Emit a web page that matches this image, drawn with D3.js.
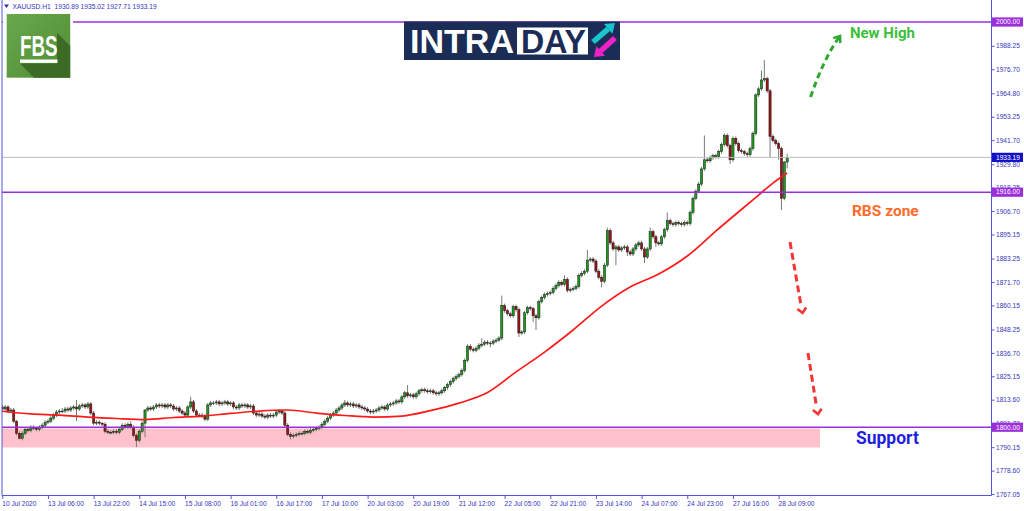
<!DOCTYPE html>
<html><head><meta charset="utf-8">
<script src="https://cdn.jsdelivr.net/npm/d3@7"></script>
<style>html,body{margin:0;padding:0;background:#fff}svg{display:block}</style>
</head><body>
<svg id="c" width="1024" height="511"></svg>
<script>
// ---------------- DATA ----------------
const symbolTitle = "XAUUSD.H1  1930.89 1935.02 1927.71 1933.19";
const firstOpen = 1810;
const closes = [
1809,1810,1808,1808.5,1803,1797,1794.5,1797,1799,1798.5,
1800,1799.5,1799,1800,1801,1802.5,1803,1804.5,1806,1807.5,
1808,1808,1809,1808.5,1809.5,1810,1809,1810.5,1811,1810,
1811.5,1807,1802,1802.5,1802,1801.5,1798,1797.5,1797.5,1798,
1797.5,1799,1801,1800,1801.5,1800,1796,1793.5,1798,1802,
1808.5,1809.5,1809,1810,1811,1810.5,1811,1810,1811,1810.5,
1809,1809.5,1808,1807,1806,1810,1812.5,1808,1806,1806,
1805.5,1804,1811,1812,1812,1812.5,1811.5,1812,1812.5,1811.5,
1812,1810,1809.5,1811,1810.5,1811,1810,1810.5,1807,1806,
1806.5,1805.5,1805,1806,1805.5,1806,1807.5,1808,1807,1801,
1796.5,1795.5,1796,1796.5,1797,1797,1798,1797.5,1798.5,1799,
1799.5,1800,1801.5,1803,1804.5,1806,1807,1808.5,1809.5,1811,
1812,1811,1811.5,1810.5,1811,1810,1809.5,1809,1808,1807.5,
1808,1808.5,1809.5,1810,1809,1811,1811.5,1812,1813,1812.5,
1815,1817,1815.5,1816,1815,1816.5,1818,1818.5,1818,1817.5,
1818,1817,1816.5,1817,1818,1819.5,1821,1822.5,1824,1825,
1826,1828,1833,1840,1838.5,1838,1839,1840.5,1841,1842,
1841.5,1841.5,1842.5,1843,1844,1860,1857.5,1856,1855,1859.5,
1858,1846.5,1847,1856.5,1859,1858.5,1855,1854,1862,1864,
1865.5,1866,1866.5,1868.5,1870,1871.5,1870.5,1873,1867.5,1868,
1868.5,1869.5,1875,1876,1877,1882.5,1883,1882,1877,1874,
1872,1880,1897,1891,1888,1889,1887.5,1888.5,1889,1886.5,
1885.5,1888,1890,1891,1888,1884,1888,1896.5,1894,1891,
1890.5,1894,1897.5,1902,1900.5,1900,1901,1900.5,1900,1901,
1900.5,1906,1913,1916.5,1920,1927.5,1932,1931.5,1933,1934,
1933.5,1936,1939.5,1944,1939,1932,1942.5,1940,1936.5,1936,
1935,1934.5,1937.5,1945,1964,1967,1971.4,1972,1966,1943.5,
1941.5,1940,1937.5,1913,1930.89,1933.19
];
const wickUp = [
1,1,1,1,1,0.5,1,1,1,1,
1,1,0.5,1,1,1,1,1,1,1,
1,1.5,1,1,1,1,3.5,1,1,1,
1,1,1,1,1,0.5,1,1,1,1,
1,1,1,1,1,1.5,1,1,1,1,
0.5,1,1,1,1,1,1,1,1,1,
1,1,1,1,1,1,2.5,1,1,1,
1,1,1,1,1,1,1,1,1,1,
1,1,1,1,1,1,1,1,1,1,
1,1,1,1,1,1,1,1,1,1,
1,1,1,1,1,1,1,1,1,1,
1,1,1,1,1,1,1,1,1,1,
1.5,1,1,1,1,1,1,1,1,1,
1,1,1,1,1,1,1,1,1,1,
1,1,3.8,1,1,1,1,1,1,1,
1,1,1,1,1,1,1,1,1,1,
1,1,1,1,1,1,1,1,3,1,
1,1,1,1,1,5,1,1,1,1,
1,1,1,1,1,1,1,1,1,1,
1,1,1,1,1,1,1,2,1,1,
1,1,1,1,1,5,1,1,1,1,
1,1,1.5,1,1,1,1,1,1,1,
1,1,1,1,1,1,1,2,1,1,
1,1,1,4,1,1,1,1,1,1,
1,1,1,1,1,1,12,1,1,1,
1,1,1,1,1,1,1,1,1,1,
1,1,1,1,1,1,4.6,9.2,1,1,
1,1,1,1,0.5,1.83
];
const wickDn = [
1,1,1,1,1,1,0.5,1,1,1,
1,1,1,1,1,1,1,1,1,1,
1,1,1,1,1,1,6,1,1,1,
1,1,1,1,1,1,1,1,1,1,
1,1,1,1,1,1,1,3.3,1,1,
7,1,1,1,1,1,1,1,1,1,
1,1,1,1,1,1,1,1,1,1,
1,1,1,1,1,1,1,1,1,1,
1,1,1,1,1,1,1,1,1,1,
1,1,1,1,1,1,1,1,1,1,
1,1.5,1,1,1,1,1,1,1,1,
1,1,1,1,1,1,1,1,1,1,
1,1,1,1,1,1,1,1,1,1,
1,1,1,1,1,1,1,1,1,1,
1,1,1,1,1,1,1,1,1,1,
1,1,1,1,1,1,1,1,1,1,
1,1,1,1,1,1,1,1,1,1,
1,2,1,1,1,1,1,1,1,1,
1,2,1,1,1,1,3,6,1,1,
1,1,1,1,1,1,1,1,1,1,
1,1,1,1,1,1,1,1,1,1,
3,1,1,1,1,8,1,1,1,2,
1,1,1,1,1,3,1,1,1,2,
1,1,1,1,1,1,1,1,1,1,
1,1,1,1,1,1,1,1,1,1,
1,1,1,1,1,2,1,1,1,1,
1,1,1,1,1,1,1,1,1,10.6,
1,1,5.5,5.8,1,3.18
];
// moving average at bar indices
const maIdx = [0,10,20,30,40,50,60,70,80,90,100,110,120,130,140,150,160,170,180,190,200,210,220,230,240,250,260,265,270,275];
const maVal = [1807.9,1806.6,1806.0,1805.0,1804.3,1803.8,1804.8,1805.5,1806.8,1808.0,1808.5,1807.0,1805.8,1805.0,1805.5,1808.2,1811.9,1817.1,1827.3,1837.1,1848.0,1859.8,1869.2,1875.6,1884.5,1896.8,1908.7,1914.6,1920.5,1925.5];
// time axis labels (every 16 bars)
const timeLabels = ["10 Jul 2020","13 Jul 06:00","13 Jul 22:00","14 Jul 15:00","15 Jul 08:00","16 Jul 01:00","16 Jul 17:00","17 Jul 10:00","20 Jul 03:00","20 Jul 19:00","21 Jul 12:00","22 Jul 05:00","22 Jul 21:00","23 Jul 14:00","24 Jul 07:00","24 Jul 23:00","27 Jul 16:00","28 Jul 09:00"];
const timeLabelBars = [0,16,32,48,64,80,96,112,128,144,160,176,192,208,224,240,256,272];
// price axis
const priceTicks = [1988.25,1976.70,1964.80,1953.25,1941.70,1929.80,1918.25,1906.70,1895.15,1883.25,1871.70,1860.15,1848.25,1836.70,1825.15,1813.60,1801.70,1790.15,1778.60,1767.05];
const levelLines = [2000.00, 1916.00, 1800.00];
const currentPrice = 1933.19;
const supportZone = {fromBar:-1, toBar:286.5, top:1799.4, bottom:1790.0};
// annotations in (bar, price)
const greenArrow = {from:[283.2,1963.0], ctrl:[287.6,1981.2], to:[293.0,1992.1], tip:[293.5,1993.1]};
const redArrows = [
  {from:[276.0,1891.4], to:[279.9,1859.8], tip:[280.4,1856.4]},
  {from:[282.3,1836.6], to:[285.3,1810.0], tip:[285.8,1806.5]}
];
const notes = [
  {text:"New High", bar:297.0, price:1992.3, color:"#3cbf3c", size:15},
  {text:"RBS zone", bar:297.7, price:1904.5, color:"#ff6b2b", size:15.5},
  {text:"Support", bar:299.1, price:1791.5, color:"#1f1fe0", size:17.5}
];

// ---------------- DRAW ----------------
const svg = d3.select("#c");
const axisColor = "#5454dc", textColor = "#3535c0";
const purple = "#9c2fdc";
const plotL = 2, plotR = 991.5, plotB = 495.5;
const x = d3.scaleLinear().domain([0, 272]).range([2.3, 778.6]);
const y = d3.scaleLinear().domain([1767.05, 2000]).range([494, 22]);
const F = "'Liberation Sans', Arial, sans-serif";

svg.append("rect").attr("width",1024).attr("height",511).attr("fill","#fff");

const bars = closes.map((c,i)=>{
  const o = i ? closes[i-1] : firstOpen;
  return {i, o, c, h: Math.max(o,c)+wickUp[i], l: Math.min(o,c)-wickDn[i]};
});

const plot = svg.append("g");
plot.append("defs").append("clipPath").attr("id","clip")
  .append("rect").attr("x",plotL).attr("y",0).attr("width",plotR-plotL).attr("height",plotB);
const pg = plot.append("g").attr("clip-path","url(#clip)");

// support zone
pg.append("rect")
  .attr("x", x(supportZone.fromBar)).attr("width", x(supportZone.toBar)-x(supportZone.fromBar))
  .attr("y", y(supportZone.top)).attr("height", y(supportZone.bottom)-y(supportZone.top))
  .attr("fill","#ffc2cc");

// candles
const cg = pg.append("g");
cg.selectAll("line.w").data(bars).join("line").attr("class","w")
  .attr("x1",d=>x(d.i)).attr("x2",d=>x(d.i))
  .attr("y1",d=>y(d.h)).attr("y2",d=>y(d.l))
  .attr("stroke","#7a7a7a").attr("stroke-width",1);
cg.selectAll("rect.b").data(bars).join("rect").attr("class","b")
  .attr("x",d=>x(d.i)-1.1).attr("width",2.2)
  .attr("y",d=>y(Math.max(d.o,d.c)))
  .attr("height",d=>Math.max(0.8, Math.abs(y(d.o)-y(d.c))))
  .attr("fill",d=>d.c>=d.o ? "#1c9a1c" : "#9a1212")
  .attr("stroke","#1a1a1a").attr("stroke-width",0.5);

// moving average
const ma = maIdx.map((b,k)=>({b, v:maVal[k]}));
pg.append("path").datum(ma)
  .attr("d", d3.line().x(d=>x(d.b)).y(d=>y(d.v)).curve(d3.curveMonotoneX))
  .attr("fill","none").attr("stroke","#ff1a1a").attr("stroke-width",1.7);

// current price line and level lines
pg.append("line").attr("x1",plotL).attr("x2",plotR)
  .attr("y1",y(currentPrice)).attr("y2",y(currentPrice))
  .attr("stroke","#bdbdbd").attr("stroke-width",1);
pg.selectAll("line.lvl").data(levelLines).join("line").attr("class","lvl")
  .attr("x1",plotL).attr("x2",plotR).attr("y1",d=>y(d)).attr("y2",d=>y(d))
  .attr("stroke",purple).attr("stroke-width",1.4);

// frame
svg.append("path").attr("d",`M${plotL},0V${plotB}H${plotR}V0`)
  .attr("fill","none").attr("stroke",axisColor).attr("stroke-width",1);

// right axis
const yAxis = d3.axisRight(y).tickValues(priceTicks).tickSize(3).tickPadding(1.5)
  .tickFormat(d3.format(".2f"));
const yg = svg.append("g").attr("transform",`translate(${plotR},0)`).call(yAxis);
yg.select(".domain").remove();
yg.attr("font-family",F).attr("font-size",6.6);
yg.selectAll("line").attr("stroke",axisColor);
yg.selectAll("text").attr("fill",textColor);

// bottom axis
const xAxis = d3.axisBottom(x).tickValues(timeLabelBars).tickSize(3.5).tickPadding(2)
  .tickFormat((d,i)=>timeLabels[i]);
const xg = svg.append("g").attr("transform",`translate(0,${plotB})`).call(xAxis);
xg.select(".domain").remove();
xg.attr("font-family",F).attr("font-size",6.6);
xg.selectAll("line").attr("stroke",axisColor);
xg.selectAll("text").attr("fill",textColor).attr("text-anchor","start").attr("dx",-0.5);

// price boxes on the right axis
const boxes = levelLines.map(v=>({v, bg:purple})).concat([{v:currentPrice, bg:"#1010c8"}]);
const bx = svg.append("g");
bx.selectAll("rect").data(boxes).join("rect")
  .attr("x",plotR+0.5).attr("y",d=>y(d.v)-4.6).attr("width",31).attr("height",9.2)
  .attr("fill",d=>d.bg);
bx.selectAll("text").data(boxes).join("text")
  .attr("x",plotR+4.5).attr("y",d=>y(d.v)+2.3)
  .attr("font-family",F).attr("font-size",6.6).attr("fill","#fff")
  .text(d=>d.v.toFixed(2));

// title
svg.append("path").attr("d","M4,4.5H9L6.5,8Z").attr("fill","#2a2aa8");
svg.append("text").attr("x",12.5).attr("y",9.2).attr("font-family",F).attr("font-size",6.7)
  .attr("fill",textColor).attr("xml:space","preserve").text(symbolTitle);

// annotations
function chevron(tx,ty,ang,len,spr){
  const a1=ang+Math.PI-spr, a2=ang+Math.PI+spr;
  return `M${tx+len*Math.cos(a1)},${ty+len*Math.sin(a1)}L${tx},${ty}L${tx+len*Math.cos(a2)},${ty+len*Math.sin(a2)}`;
}
const ann = svg.append("g");
{
  const s=greenArrow, p0=[x(s.from[0]),y(s.from[1])], pc=[x(s.ctrl[0]),y(s.ctrl[1])],
        p1=[x(s.to[0]),y(s.to[1])], pt=[x(s.tip[0]),y(s.tip[1])];
  const col="#2fa82f";
  ann.append("path").attr("d",`M${p0}Q${pc} ${p1}`).attr("fill","none")
    .attr("stroke",col).attr("stroke-width",3).attr("stroke-dasharray","6,4");
  ann.append("path").attr("d",chevron(pt[0],pt[1],Math.atan2(pt[1]-pc[1],pt[0]-pc[0]),7,0.65))
    .attr("fill","none").attr("stroke",col).attr("stroke-width",2.6).attr("stroke-linejoin","miter");
}
redArrows.forEach(s=>{
  const p0=[x(s.from[0]),y(s.from[1])], p1=[x(s.to[0]),y(s.to[1])], pt=[x(s.tip[0]),y(s.tip[1])];
  const col="#f53535";
  ann.append("path").attr("d",`M${p0}L${p1}`).attr("fill","none")
    .attr("stroke",col).attr("stroke-width",3).attr("stroke-dasharray","7,4");
  ann.append("path").attr("d",chevron(pt[0],pt[1],Math.atan2(pt[1]-p0[1],pt[0]-p0[0]),6.5,0.75))
    .attr("fill","none").attr("stroke",col).attr("stroke-width",2.6);
});
ann.selectAll("text").data(notes).join("text")
  .attr("x",d=>x(d.bar)).attr("y",d=>y(d.price))
  .attr("font-family","Roboto, 'Open Sans', sans-serif").attr("font-weight",700)
  .attr("font-size",d=>d.size).attr("fill",d=>d.color).text(d=>d.text);

// FBS logo
const fbs = svg.append("g");
fbs.append("rect").attr("x",3).attr("y",11).attr("width",70).attr("height",70).attr("fill","#fff");
const gr = svg.append("defs").append("linearGradient").attr("id","fbsg")
  .attr("x1",0).attr("y1",0).attr("x2",1).attr("y2",1);
gr.append("stop").attr("offset",0).attr("stop-color","#6aa84c");
gr.append("stop").attr("offset",1).attr("stop-color","#4f8c35");
fbs.append("rect").attr("x",6.7).attr("y",14).attr("width",63.5).attr("height",63.7).attr("fill","url(#fbsg)");
fbs.append("path").attr("d","M57,33L70.2,46V77.7H34L20,63.5H57Z").attr("fill","#3b6b25");
fbs.append("text").attr("x",20).attr("y",55.5).attr("font-family",F).attr("font-weight",700)
  .attr("font-size",30).attr("fill","#fff").attr("textLength",37.5).attr("lengthAdjust","spacingAndGlyphs").text("FBS");
fbs.append("rect").attr("x",20).attr("y",59.5).attr("width",37.5).attr("height",3.4).attr("fill","#fff");

// INTRADAY logo
const itd = svg.append("g");
itd.append("rect").attr("x",404).attr("y",21.5).attr("width",216).attr("height",38.5).attr("fill","#1b2d57");
itd.append("text").attr("x",410).attr("y",53).attr("font-family",F).attr("font-weight",700)
  .attr("font-size",34).attr("fill","#fff").attr("textLength",104).attr("lengthAdjust","spacingAndGlyphs").text("INTRA");
itd.append("rect").attr("x",517).attr("y",27.5).attr("width",71).attr("height",27).attr("fill","#fff");
itd.append("text").attr("x",521).attr("y",53).attr("font-family",F).attr("font-weight",700)
  .attr("font-size",34).attr("fill","#1b2d57").attr("textLength",65).attr("lengthAdjust","spacingAndGlyphs").text("DAY");
function bigArrow(g,x0,y0,tx,ty,col){
  const dx=tx-x0, dy=ty-y0, L=Math.hypot(dx,dy), ux=dx/L, uy=dy/L, nx=-uy, ny=ux;
  const hl=9, hw=6.5, bxp=tx-hl*ux, byp=ty-hl*uy;
  g.append("line").attr("x1",x0).attr("y1",y0).attr("x2",bxp).attr("y2",byp)
    .attr("stroke",col).attr("stroke-width",5.5);
  g.append("path").attr("d",`M${tx},${ty}L${bxp+hw*nx},${byp+hw*ny}L${bxp-hw*nx},${byp-hw*ny}Z`).attr("fill",col);
}
bigArrow(itd,593,42,615,23,"#19c4cf");
bigArrow(itd,615,38,594,57,"#ee22c8");
</script>
</body></html>
